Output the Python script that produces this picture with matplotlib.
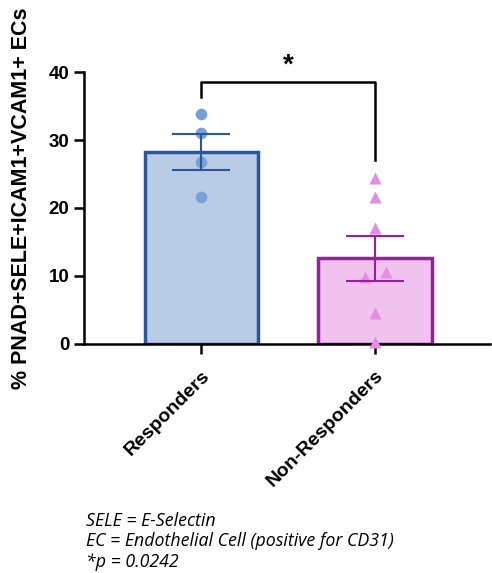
import numpy as np
import matplotlib
matplotlib.use('Agg')
import matplotlib.pyplot as plt

plt.rcParams['font.family'] = ['Liberation Sans', 'DejaVu Sans']

groups = ['Responders', 'Non-Responders']
responders = [33.8, 31.0, 26.8, 21.6]
non_responders = [24.4, 21.6, 17.0, 9.8, 10.6, 4.6, 0.2]
nr_offsets = [0, 0, 0, -0.06, 0.065, 0, 0]
yticks = [0, 10, 20, 30, 40]
ylabel = '% PNAD+SELE+ICAM1+VCAM1+ ECs'
notes = ['SELE = E-Selectin', 'EC = Endothelial Cell (positive for CD31)', '*p = 0.0242']

fills = ['#b9cce6', '#f0c3ee']
edges = ['#2a56a0', '#9a1ea3']
dots = ['#7a9fd6', '#e58de3']

fig = plt.figure(figsize=(4.92, 5.73), dpi=100)
ax = fig.add_axes([0.171, 0.40, 0.825, 0.474])

data = [responders, non_responders]
for i, vals in enumerate(data):
    vals = np.array(vals)
    mean = vals.mean()
    sem = vals.std(ddof=1) / np.sqrt(len(vals))
    ax.bar(i, mean, width=0.65, color=fills[i], edgecolor=edges[i], linewidth=2.5, zorder=2)
    if i == 0:
        ax.scatter(np.full(len(vals), i), vals, s=70, color=dots[i], marker='o', zorder=3, linewidths=0)
    else:
        ax.scatter(i + np.array(nr_offsets), vals, s=75, color=dots[i], marker='^', zorder=3,
                   linewidths=0, clip_on=False)
    ax.errorbar(i, mean, yerr=sem, color=edges[i], capsize=21, elinewidth=1.5, capthick=1.5, zorder=4)

# significance bracket
ax.plot([0, 0, 1, 1], [36.3, 38.5, 38.5, 27.0], color='black', linewidth=1.8, clip_on=False, zorder=5)
ax.text(0.5, 39.0, '*', ha='center', va='bottom', fontsize=20, fontweight='bold', clip_on=False)

ax.set_xlim(-0.672, 1.661)
ax.set_ylim(0, 40)
ax.set_yticks(yticks)
ax.set_xticks(range(len(groups)))
ax.set_xticklabels(groups, rotation=45, ha='right', rotation_mode='anchor', fontsize=14, fontweight='bold')
for lab in ax.get_yticklabels():
    lab.set_fontweight('bold')
    lab.set_fontsize(13.5)
ax.set_ylabel(ylabel, fontsize=15.5, fontweight='bold')
ax.yaxis.set_label_coords(-0.128, 0.535)
ax.spines['top'].set_visible(False)
ax.spines['right'].set_visible(False)
ax.spines['left'].set_linewidth(1.8)
ax.spines['bottom'].set_linewidth(1.8)
ax.tick_params(width=1.8, length=7)
ax.tick_params(axis='x', pad=10)

y0 = 0.091
for k, t in enumerate(notes):
    fig.text(0.175, y0 - k * 0.036, t, fontsize=12.8, style='italic', family='Open Sans', va='center')

fig.savefig('out.png', dpi=100)
